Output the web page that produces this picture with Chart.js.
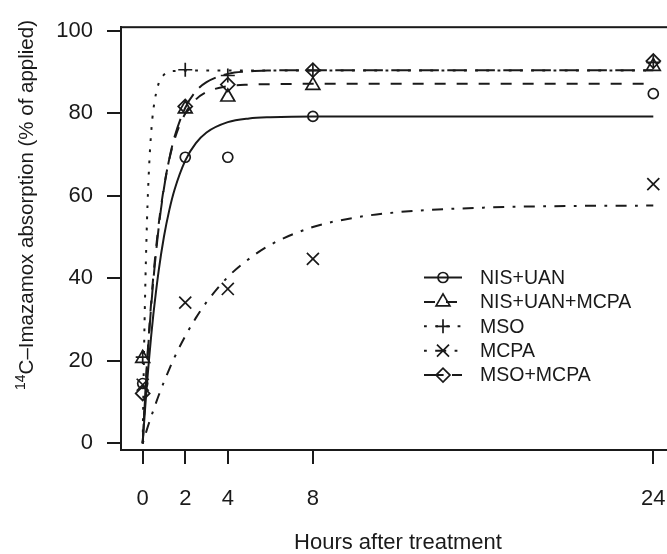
<!DOCTYPE html>
<html>
<head>
<meta charset="utf-8">
<script src="https://cdn.jsdelivr.net/npm/chart.js@4/dist/chart.umd.min.js"></script>
<style>
  html, body { margin: 0; padding: 0; background: #fff; overflow: hidden; }
  #wrap { width: 690px; height: 554px; }
</style>
</head>
<body>
<div id="wrap"><canvas id="chart" width="690" height="554"></canvas></div>
<script>
// observed values (hours after treatment)
var hours = [0, 2, 4, 8, 24];
var nisUan = [14.5, 69.3, 69.3, 79.2, 84.7];
var nisUanMcpa = [20.6, 81.0, 83.9, 86.7, 91.3];
var mso = [20.9, 90.5, 89.1, 90.3, 92.3];
var mcpa = [14.2, 34.1, 37.4, 44.7, 62.8];
var msoMcpa = [12.1, 81.6, 86.9, 90.4, 92.6];

// fitted curves
var curveHours = [0, 0.05, 0.1, 0.2, 0.3, 0.4, 0.5, 0.75, 1, 1.25, 1.5, 2, 2.5, 3, 4, 5, 6, 8, 10, 12, 16, 20, 24];
var fitNisUan = [0, 3.9, 7.5, 14.4, 20.5, 26.1, 31.2, 41.8, 50.1, 56.5, 61.5, 68.5, 72.7, 75.3, 77.8, 78.7, 79.0, 79.2, 79.2, 79.2, 79.2, 79.2, 79.2];
var fitNisUanMcpa = [0, 5.3, 10.2, 19.3, 27.2, 34.3, 40.5, 53.0, 62.1, 68.8, 73.7, 79.9, 83.3, 85.1, 86.5, 86.9, 87.0, 87.1, 87.1, 87.1, 87.1, 87.1, 87.1];
var fitMso = [0, 18.2, 32.7, 53.6, 66.9, 75.4, 80.8, 87.2, 89.3, 90.0, 90.2, 90.3, 90.3, 90.3, 90.3, 90.3, 90.3, 90.3, 90.3, 90.3, 90.3, 90.3, 90.3];
var fitMcpa = [0, 0.9, 1.7, 3.4, 5.0, 6.5, 8.0, 11.6, 14.9, 18.0, 20.9, 26.0, 30.4, 34.2, 40.3, 44.7, 48.1, 52.4, 54.7, 56.0, 57.1, 57.5, 57.6];
var fitMsoMcpa = [0, 5.1, 9.8, 18.6, 26.4, 33.3, 39.5, 52.2, 61.8, 68.9, 74.3, 81.3, 85.3, 87.5, 89.5, 90.1, 90.3, 90.4, 90.4, 90.4, 90.4, 90.4, 90.4];

var xTicks = [0, 2, 4, 8, 24];
var yTicks = [0, 20, 40, 60, 80, 100];
var seriesNames = ['NIS+UAN', 'NIS+UAN+MCPA', 'MSO', 'MCPA', 'MSO+MCPA'];

var ink = '#1a1a1a';
var fontFam = "'Liberation Sans', Arial, Helvetica, sans-serif";

var dashes = [[], [11, 11], [2.8, 8.4], [2.8, 8.4, 11, 8.4], [19.6, 8.4]];
var shapes = ['circle', 'triangle', 'cross', 'crossRot', 'rectRot'];
var radii = [5, 8, 7, 8.5, 7];

function pairs(xs, ys) {
  return xs.map(function(x, i) { return {x: x, y: ys[i]}; });
}

var pointSets = [nisUan, nisUanMcpa, mso, mcpa, msoMcpa];
var curveSets = [fitNisUan, fitNisUanMcpa, fitMso, fitMcpa, fitMsoMcpa];

var datasets = [];
pointSets.forEach(function(vals, i) {
  datasets.push({
    label: seriesNames[i],
    data: pairs(hours, vals),
    showLine: false,
    pointStyle: shapes[i],
    pointRadius: radii[i],
    pointBorderWidth: 1.7,
    pointBorderColor: ink,
    pointBackgroundColor: 'rgba(0,0,0,0)',
    borderColor: ink
  });
});
curveSets.forEach(function(vals, i) {
  datasets.push({
    label: seriesNames[i] + ' fit',
    data: pairs(curveHours, vals),
    showLine: true,
    pointRadius: 0,
    borderColor: ink,
    borderWidth: 2,
    borderDash: dashes[i],
    cubicInterpolationMode: 'monotone',
    fill: false
  });
});

// R style box, y label with superscript and legend
var extras = {
  id: 'extras',
  afterDraw: function(chart) {
    var ctx = chart.ctx, a = chart.chartArea;
    ctx.save();
    ctx.strokeStyle = ink;
    ctx.lineWidth = 2;
    ctx.strokeRect(a.left, a.top, a.right - a.left, a.bottom - a.top);

    // y axis title
    ctx.fillStyle = ink;
    ctx.translate(33, 205);
    ctx.rotate(-Math.PI / 2);
    var big = '20.5px ' + fontFam, small = '14px ' + fontFam;
    var main = 'C\u2013Imazamox absorption (% of applied)';
    ctx.font = small;
    var w1 = ctx.measureText('14').width;
    ctx.font = big;
    var w2 = ctx.measureText(main).width;
    var x0 = -(w1 + w2) / 2;
    ctx.textBaseline = 'alphabetic';
    ctx.textAlign = 'left';
    ctx.font = small;
    ctx.fillText('14', x0, -8.5);
    ctx.font = big;
    ctx.fillText(main, x0 + w1, 0);
    ctx.restore();

    // legend
    ctx.save();
    var ly0 = 277.5, lstep = 24.4, lx1 = 424, lx2 = 462, lxs = 443, ltx = 480;
    ctx.font = '19.5px ' + fontFam;
    ctx.textBaseline = 'middle';
    seriesNames.forEach(function(name, i) {
      var y = ly0 + i * lstep;
      ctx.strokeStyle = ink;
      ctx.lineWidth = 2;
      ctx.setLineDash(dashes[i]);
      ctx.beginPath();
      ctx.moveTo(lx1, y);
      ctx.lineTo(lx2, y);
      ctx.stroke();
      ctx.setLineDash([]);
      ctx.lineWidth = 1.7;
      ctx.fillStyle = 'rgba(0,0,0,0)';
      Chart.helpers.drawPoint(ctx, {pointStyle: shapes[i], radius: radii[i], borderWidth: 1.7, rotation: 0}, lxs, y);
      ctx.fillStyle = ink;
      ctx.fillText(name, ltx, y + 1);
    });
    ctx.restore();
  }
};

var chart = new Chart('chart', {
  type: 'scatter',
  data: { datasets: datasets },
  plugins: [extras],
  options: {
    responsive: false,
    animation: false,
    devicePixelRatio: 1,
    layout: { padding: { left: 0, top: 17, right: 15, bottom: 0 } },
    plugins: {
      legend: { display: false },
      tooltip: { enabled: false }
    },
    scales: {
      x: {
        type: 'linear',
        min: -1.02,
        max: 25.02,
        afterBuildTicks: function(scale) {
          scale.ticks = xTicks.map(function(v) { return {value: v}; });
        },
        afterFit: function(scale) { scale.height = 104; },
        ticks: {
          color: ink,
          padding: 22,
          font: { family: fontFam, size: 22 },
          callback: function(v) { return String(v); }
        },
        grid: { drawOnChartArea: false, drawTicks: true, tickLength: 14, tickColor: ink, lineWidth: 2 },
        border: { display: true, color: ink, width: 2 },
        title: {
          display: true,
          text: 'Hours after treatment',
          color: ink,
          font: { family: fontFam, size: 22 },
          padding: { top: 0, bottom: -2 }
        }
      },
      y: {
        type: 'linear',
        min: -1.6,
        max: 100.8,
        afterBuildTicks: function(scale) {
          scale.ticks = yTicks.map(function(v) { return {value: v}; });
        },
        afterFit: function(scale) { scale.width = 121; },
        ticks: {
          color: ink,
          padding: 14,
          font: { family: fontFam, size: 22 },
          callback: function(v) { return String(v); }
        },
        grid: { drawOnChartArea: false, drawTicks: true, tickLength: 14, tickColor: ink, lineWidth: 2 },
        border: { display: true, color: ink, width: 2 }
      }
    }
  }
});
</script>
</body>
</html>
